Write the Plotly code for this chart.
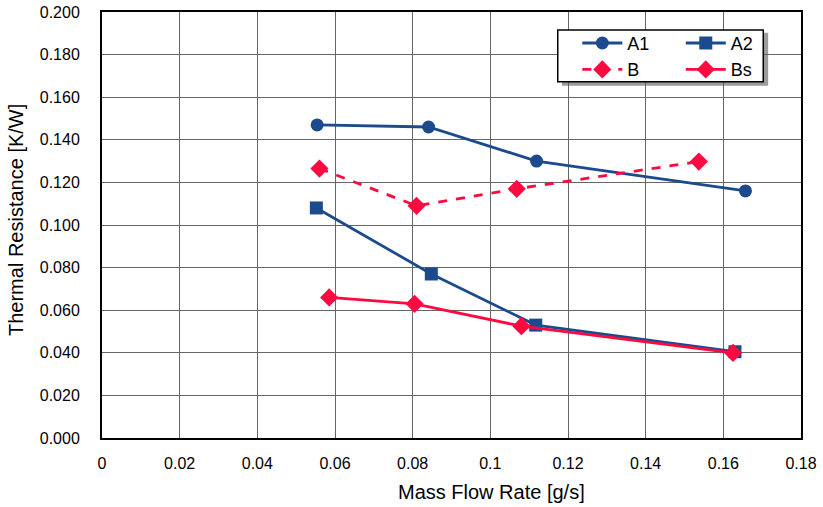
import plotly.graph_objects as go

a1_x = [0.0554, 0.0841, 0.1119, 0.1657]
a1_y = [0.147, 0.146, 0.130, 0.116]
a2_x = [0.0552, 0.0848, 0.1117, 0.1630]
a2_y = [0.108, 0.077, 0.053, 0.0405]
b_x = [0.0560, 0.0810, 0.1068, 0.1537]
b_y = [0.1265, 0.109, 0.117, 0.1298]
bs_x = [0.0585, 0.0805, 0.1080, 0.1625]
bs_y = [0.066, 0.063, 0.0525, 0.040]

x_ticks = [0, 0.02, 0.04, 0.06, 0.08, 0.1, 0.12, 0.14, 0.16, 0.18]
x_ticklabels = ["0", "0.02", "0.04", "0.06", "0.08", "0.1", "0.12", "0.14", "0.16", "0.18"]
y_ticks = [0, 0.02, 0.04, 0.06, 0.08, 0.1, 0.12, 0.14, 0.16, 0.18, 0.2]
y_ticklabels = ["%.3f" % v for v in y_ticks]

blue = "#1B4B8C"
red = "#FF0A40"
font = "Liberation Sans, Arial, sans-serif"

fig = go.Figure()
fig.add_trace(go.Scatter(x=a1_x, y=a1_y, name="A1", mode="lines+markers",
                         line=dict(color=blue, width=2.8),
                         marker=dict(symbol="circle", size=13, color=blue),
                         legend="legend"))
fig.add_trace(go.Scatter(x=b_x, y=b_y, name="B", mode="lines+markers",
                         line=dict(color=red, width=2.8, dash="dash"),
                         marker=dict(symbol="diamond", size=14, color=red),
                         legend="legend"))
fig.add_trace(go.Scatter(x=a2_x, y=a2_y, name="A2", mode="lines+markers",
                         line=dict(color=blue, width=2.8),
                         marker=dict(symbol="square", size=13, color=blue),
                         legend="legend2"))
fig.add_trace(go.Scatter(x=bs_x, y=bs_y, name="Bs", mode="lines+markers",
                         line=dict(color=red, width=2.8),
                         marker=dict(symbol="diamond", size=14, color=red),
                         legend="legend2"))

# legend box with shadow
fig.add_shape(type="rect", xref="paper", yref="paper",
              x0=0.658, x1=0.953, y0=0.827, y1=0.951,
              fillcolor="rgba(90,90,90,0.6)", line=dict(width=0), layer="above")
fig.add_shape(type="rect", xref="paper", yref="paper",
              x0=0.652, x1=0.946, y0=0.836, y1=0.958,
              fillcolor="white", line=dict(color="black", width=1.5), layer="above")

legend_common = dict(bgcolor="rgba(0,0,0,0)", borderwidth=0,
                     font=dict(family=font, size=18, color="black"),
                     xanchor="left", yanchor="top", tracegroupgap=0,
                     itemwidth=40)
fig.update_layout(
    legend=dict(x=0.680, y=0.970, **legend_common),
    legend2=dict(x=0.828, y=0.970, **legend_common),
)

fig.update_xaxes(range=[0, 0.18], tickvals=x_ticks, ticktext=x_ticklabels,
                 showgrid=True, gridcolor="#666666", gridwidth=1,
                 showline=True, linecolor="black", linewidth=2, mirror=True,
                 zeroline=False, ticks="", automargin=False, ticklabelstandoff=10,
                 tickfont=dict(family=font, size=16, color="black"))
fig.update_yaxes(range=[0, 0.2], tickvals=y_ticks, ticktext=y_ticklabels,
                 showgrid=True, gridcolor="#666666", gridwidth=1,
                 showline=True, linecolor="black", linewidth=2, mirror=True,
                 zeroline=False, ticks="", automargin=False, ticklabelstandoff=17,
                 tickfont=dict(family=font, size=16, color="black"))

fig.add_annotation(text="Mass Flow Rate [g/s]", xref="paper", yref="paper",
                   x=(492 - 102) / 699, y=(438 - 492) / 426,
                   xanchor="center", yanchor="middle", showarrow=False,
                   font=dict(family=font, size=20, color="black"))
fig.add_annotation(text="Thermal Resistance [K/W]", xref="paper", yref="paper",
                   x=(16 - 102) / 699, y=(438 - 220) / 426, textangle=-90,
                   xanchor="center", yanchor="middle", showarrow=False,
                   font=dict(family=font, size=20, color="black"))

fig.update_layout(width=823, height=507,
                  margin=dict(l=102, r=22, t=12, b=69),
                  plot_bgcolor="white", paper_bgcolor="white")

fig.write_html("out.html")
